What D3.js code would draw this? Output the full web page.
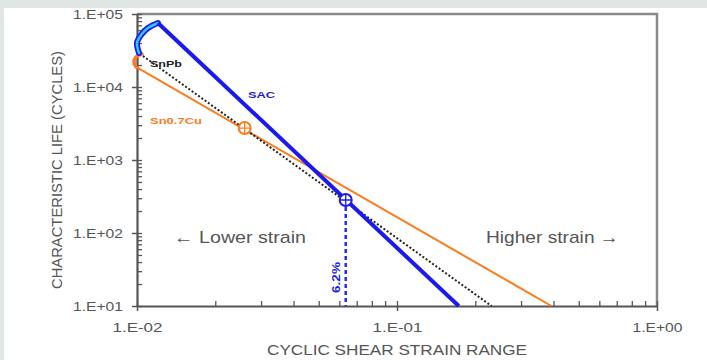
<!DOCTYPE html>
<html>
<head>
<meta charset="utf-8">
<script src="https://cdn.jsdelivr.net/npm/d3@7"></script>
<style>
  body { margin: 0; background: #dfe6e3; }
  svg { display: block; font-family: "Liberation Sans", Arial, sans-serif; }
</style>
</head>
<body>
<svg id="chart" width="707" height="360"></svg>
<script>
// tick labels
const xTickValues = [0.01, 0.1, 1];
const xTickLabels = ["1.E-02", "1.E-01", "1.E+00"];
const yTickValues = [10, 100, 1000, 10000, 100000];
const yTickLabels = ["1.E+01", "1.E+02", "1.E+03", "1.E+04", "1.E+05"];

// SAC: hook at top then straight fit line
const sacHookStrain = [0.01018, 0.0100, 0.01036, 0.01102, 0.01204];
const sacHookLife = [29200, 40100, 51500, 64300, 75300];
const sacStrain = [0.01204, 0.1728];
const sacLife = [75300, 10];

// SnPb dotted fit
const snpbStrain = [0.01054, 0.231];
const snpbLife = [26600, 10];

// Sn0.7Cu: hook then straight fit line
const sncuHookStrain = [0.01045, 0.00991, 0.00974, 0.00991];
const sncuHookLife = [28300, 25800, 22000, 18800];
const sncuStrain = [0.00991, 0.3926];
const sncuLife = [18800, 10];

// markers
const sncuMarker = { strain: 0.02595, life: 2740 };
const sacMarker = { strain: 0.0635, life: 283 };

const svg = d3.select("#chart");
const margin = { top: 14, right: 48, bottom: 54, left: 137 };
const width = 707, height = 360;

svg.append("rect").attr("x", 4).attr("y", 8).attr("width", width - 4).attr("height", height - 8).attr("fill", "#fff");

const x = d3.scaleLog().domain([0.01, 1]).range([margin.left, width - margin.right - 2]);
const y = d3.scaleLog().domain([10, 100000]).range([height - margin.bottom, margin.top]);

const minorX = [];
[0.01, 0.1].forEach(b => { for (let k = 2; k <= 9; k++) minorX.push(b * k); });
const minorY = [];
[10, 100, 1000, 10000].forEach(b => { for (let k = 2; k <= 9; k++) minorY.push(b * k); });

// frame (top / right)
svg.append("path")
  .attr("d", `M${x(0.01)},${y(1e5)}H${x(1)}V${y(10)}`)
  .attr("fill", "none").attr("stroke", "#8a8a8a").attr("stroke-width", 2.5);

// inward ticks
svg.append("g")
  .attr("transform", `translate(${x(0.01)},0)`)
  .call(d3.axisLeft(y).tickValues(minorY.concat(yTickValues)).tickSize(-5).tickFormat(() => ""))
  .call(g => g.select(".domain").remove())
  .selectAll("line").attr("stroke", "#555").attr("stroke-width", 1.3);

svg.append("g")
  .attr("transform", `translate(0,${y(10)})`)
  .call(d3.axisBottom(x).tickValues(minorX.concat(xTickValues)).tickSize(-5).tickFormat(() => ""))
  .call(g => g.select(".domain").remove())
  .selectAll("line").attr("stroke", "#555").attr("stroke-width", 1.3);

// main axes
const yAx = svg.append("g")
  .attr("transform", `translate(${x(0.01)},0)`)
  .call(d3.axisLeft(y).tickValues(yTickValues).tickFormat((d, i) => yTickLabels[i]).tickSizeInner(5).tickSizeOuter(0).tickPadding(9));
const xAx = svg.append("g")
  .attr("transform", `translate(0,${y(10)})`)
  .call(d3.axisBottom(x).tickValues(xTickValues).tickFormat((d, i) => xTickLabels[i]).tickSizeInner(5).tickSizeOuter(0).tickPadding(12));

[yAx, xAx].forEach(g => {
  g.select(".domain").attr("stroke", "#555").attr("stroke-width", 2.2);
  g.selectAll(".tick line").attr("stroke", "#555").attr("stroke-width", 1.5);
  g.selectAll("text")
    .attr("fill", "#555").attr("font-size", 13)
    .attr("textLength", 50).attr("lengthAdjust", "spacingAndGlyphs")
    .attr("font-family", "Liberation Sans, Arial, sans-serif");
});

// axis titles
svg.append("text")
  .attr("transform", `translate(62,${(y(1e5) + y(10)) / 2 + 10}) rotate(-90)`)
  .attr("text-anchor", "middle").attr("font-size", 14).attr("fill", "#555")
  .attr("textLength", 238).attr("lengthAdjust", "spacingAndGlyphs")
  .text("CHARACTERISTIC LIFE (CYCLES)");

svg.append("text")
  .attr("x", (x(0.01) + x(1)) / 2).attr("y", 355)
  .attr("text-anchor", "middle").attr("font-size", 14).attr("fill", "#555")
  .attr("textLength", 260).attr("lengthAdjust", "spacingAndGlyphs")
  .text("CYCLIC SHEAR STRAIN RANGE");

const pts = (xs, ys) => xs.map((v, i) => [v, ys[i]]);
const line = d3.line().x(d => x(d[0])).y(d => y(d[1]));
const curvy = d3.line().x(d => x(d[0])).y(d => y(d[1])).curve(d3.curveCatmullRom);

// Sn0.7Cu
svg.append("path").datum(pts(sncuHookStrain, sncuHookLife))
  .attr("d", curvy).attr("fill", "none").attr("stroke", "#ff7a1c").attr("stroke-width", 3.5).attr("stroke-linecap", "round");
svg.append("path").datum(pts(sncuStrain, sncuLife))
  .attr("d", line).attr("fill", "none").attr("stroke", "#ff7a1c").attr("stroke-width", 2);

// SnPb
svg.append("path").datum(pts(snpbStrain, snpbLife))
  .attr("d", line).attr("fill", "none").attr("stroke", "#222").attr("stroke-width", 2).attr("stroke-dasharray", "2,2");

// SAC
svg.append("path").datum(pts(sacHookStrain, sacHookLife))
  .attr("d", curvy).attr("fill", "none").attr("stroke", "#1a1aee").attr("stroke-width", 6).attr("stroke-linecap", "round");
svg.append("path").datum(pts(sacHookStrain, sacHookLife))
  .attr("d", curvy).attr("fill", "none").attr("stroke", "#33c6f0").attr("stroke-width", 2.5).attr("stroke-linecap", "round");
svg.append("path").datum(pts(sacStrain, sacLife))
  .attr("d", line).attr("fill", "none").attr("stroke", "#1a1aee").attr("stroke-width", 4);

// 6.2% drop line
svg.append("line")
  .attr("x1", x(sacMarker.strain)).attr("x2", x(sacMarker.strain))
  .attr("y1", y(sacMarker.life)).attr("y2", y(10))
  .attr("stroke", "#2a2aee").attr("stroke-width", 2.5).attr("stroke-dasharray", "4,3");

// markers
function marker(m, color) {
  const cx = x(m.strain), cy = y(m.life), r = 6;
  const g = svg.append("g");
  g.append("circle").attr("cx", cx).attr("cy", cy).attr("r", r)
    .attr("fill", "#fff").attr("stroke", color).attr("stroke-width", 2);
  g.append("path").attr("d", `M${cx - r},${cy}H${cx + r}M${cx},${cy - r}V${cy + r}`)
    .attr("stroke", color).attr("stroke-width", 1.3);
}
marker(sncuMarker, "#ff7a1c");
marker(sacMarker, "#1a1aee");

// labels
const lbl = (tx, ty, text, color, len) => svg.append("text")
  .attr("x", tx).attr("y", ty).attr("font-size", 9).attr("font-weight", "bold")
  .attr("fill", color).attr("textLength", len).attr("lengthAdjust", "spacingAndGlyphs").text(text);
lbl(150, 67, "SnPb", "#222", 32);
lbl(248, 98, "SAC", "#1a1aee", 27);
lbl(150, 124, "Sn0.7Cu", "#ff7a1c", 52);

svg.append("text")
  .attr("transform", `translate(340,293) rotate(-90)`)
  .attr("font-size", 10).attr("font-weight", "bold").attr("fill", "#1a1aee")
  .attr("textLength", 31).attr("lengthAdjust", "spacingAndGlyphs")
  .text("6.2%");

svg.append("text").attr("x", 174).attr("y", 243)
  .attr("font-size", 17).attr("fill", "#555")
  .attr("textLength", 132).attr("lengthAdjust", "spacingAndGlyphs")
  .text("← Lower strain");
svg.append("text").attr("x", 486).attr("y", 243)
  .attr("font-size", 17).attr("fill", "#555")
  .attr("textLength", 133).attr("lengthAdjust", "spacingAndGlyphs")
  .text("Higher strain →");
</script>
</body>
</html>
